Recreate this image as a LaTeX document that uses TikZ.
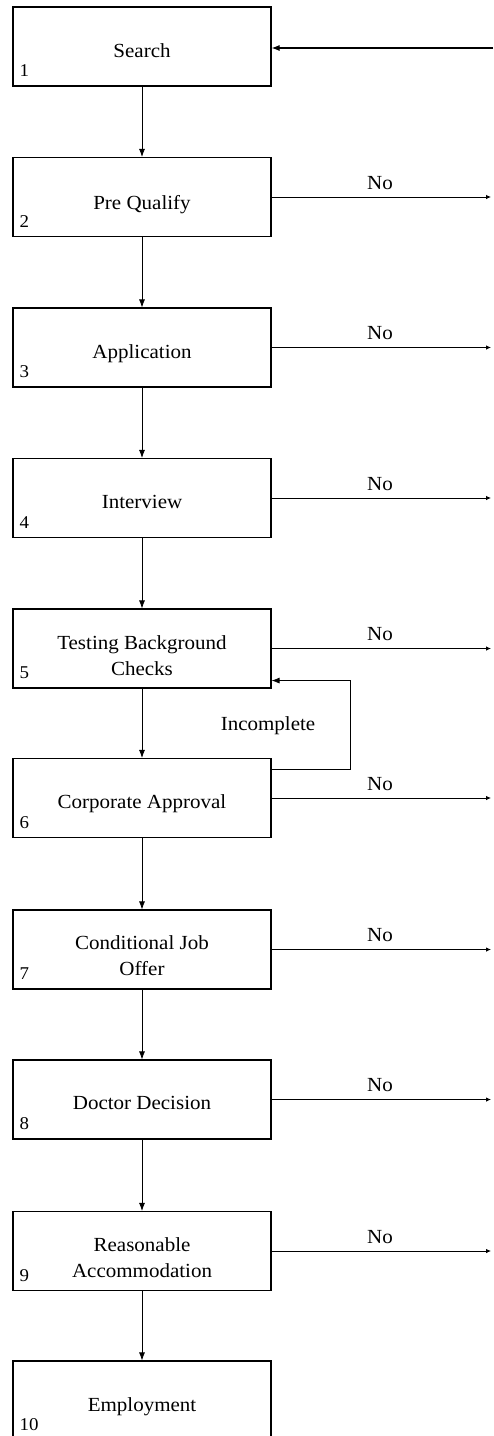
\documentclass[tikz,border=0pt]{standalone}
\usepackage{fontspec}
\setmainfont{Liberation Serif}[FakeStretch=1.05]
\usetikzlibrary{arrows.meta}

\tikzset{
  stepbox/.style={draw, line width=1.1pt, rectangle, minimum width=258pt,
    minimum height=79pt, inner sep=0pt},
  title/.style={anchor=base, align=center, font=\fontsize{20}{26}\selectfont, inner sep=0pt},
  num/.style={anchor=base west, font=\fontsize{18}{20}\selectfont, inner sep=0pt},
  lbl/.style={anchor=base, font=\fontsize{20}{24}\selectfont, inner sep=0pt},
  flow/.style={line width=0.8pt, -{Latex[length=8pt,width=6pt]}},
  reject/.style={line width=0.8pt, -{Latex[length=5pt,width=4.5pt]}},
}

\begin{document}
\begin{tikzpicture}[x=1pt, y=-1pt]
  \clip (0,0) rectangle (493,1436);
  \useasboundingbox (0,0) rectangle (493,1436);

  % process steps
  \node[stepbox] (b1)  at (142,46.5)  {};
  \node[stepbox] (b2)  at (142,197)   {};
  \node[stepbox] (b3)  at (142,347.5) {};
  \node[stepbox] (b4)  at (142,498)   {};
  \node[stepbox] (b5)  at (142,648.5) {};
  \node[stepbox] (b6)  at (142,798)   {};
  \node[stepbox] (b7)  at (142,949.5) {};
  \node[stepbox] (b8)  at (142,1099.5){};
  \node[stepbox] (b9)  at (142,1251)  {};
  \node[stepbox] (b10) at (142,1400.5){};

  % step titles
  \node[title] (t1)  at ([yshift=-11pt]b1.center)  {Search};
  \node[title] (t2)  at ([yshift=-12pt]b2.center)  {Pre Qualify};
  \node[title] (t3)  at ([yshift=-11pt]b3.center)  {Application};
  \node[title] (t4)  at ([yshift=-10pt]b4.center)  {Interview};
  \node[title, anchor=north] (t5) at ([yshift=13pt]b5.center) {Testing Background\\Checks};
  \node[title] (t6)  at ([yshift=-10pt]b6.center)  {Corporate Approval};
  \node[title, anchor=north] (t7) at ([yshift=14pt]b7.center) {Conditional Job\\Offer};
  \node[title] (t8)  at ([yshift=-10pt]b8.center)  {Doctor Decision};
  \node[title, anchor=north] (t9) at ([yshift=14pt]b9.center) {Reasonable\\Accommodation};
  \node[title] (t10) at ([yshift=-11pt]b10.center) {Employment};

  % step numbers
  \foreach \i in {1,...,10}
    \node[num] (n\i) at ([xshift=7pt,yshift=10pt]b\i.south west) {\i};

  % main flow
  \foreach \a/\b in {1/2,2/3,3/4,4/5,5/6,6/7,7/8,8/9,9/10}
    \draw[flow] (b\a.south) -- (b\b.north);

  % return into search
  \coordinate (src) at (493,48);
  \draw[line width=1.1pt, -{Latex[length=8pt,width=6pt]}] (src) -- (src -| b1.east);

  % rejection exits
  \coordinate (exitx) at (491,0);
  \coordinate (nox) at (380,0);
  \foreach \i in {2,...,9} {
    \draw[reject] (b\i.east) -- (b\i.east -| exitx);
    \node[lbl] (no\i) at ([yshift=8pt]b\i.east -| nox) {No};
  }

  % incomplete loop back to background checks
  \draw[flow] ([yshift=-11pt]b6.north east) -| ([xshift=79pt,yshift=8pt]b5.south east)
    -- ([yshift=8pt]b5.south east);
  \node[lbl] (inc) at (268,730) {Incomplete};
\end{tikzpicture}
\end{document}
